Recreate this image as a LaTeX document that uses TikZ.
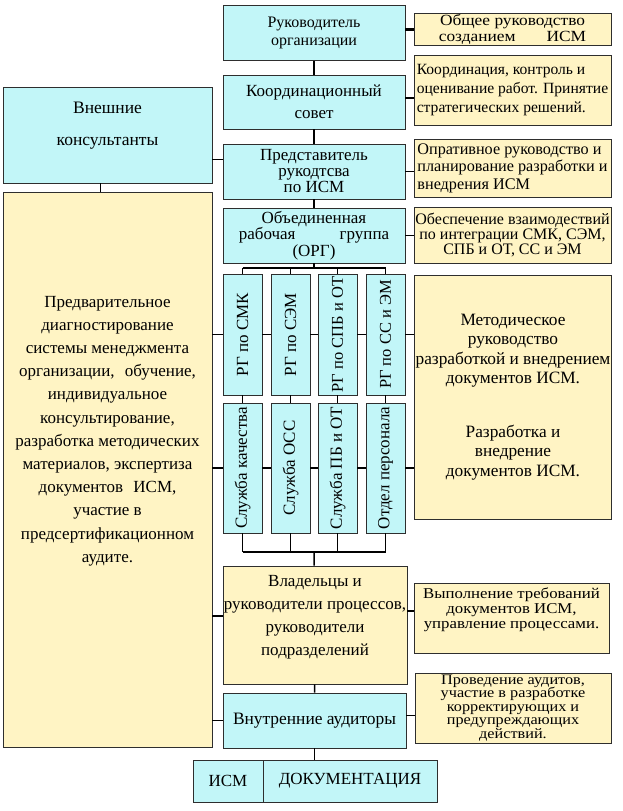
\documentclass[tikz,border=0pt]{standalone}
\usepackage{fontspec}
\setmainfont{Liberation Serif}
\usetikzlibrary{calc}
\definecolor{ink}{HTML}{2e2e2e}
\definecolor{aqua}{HTML}{C2F6F8}
\definecolor{sand}{HTML}{FFF4C4}
\newcommand\fs[2]{\fontsize{#1}{#2}\selectfont}
\newcommand\wide{\addfontfeature{FakeStretch=1.12}}

\begin{document}
\begin{tikzpicture}[x=1pt,y=-1pt,
   cb/.style={draw=ink,line width=0.8pt,fill=aqua,inner sep=1pt,align=center,font=\fs{17}{18}},
   yb/.style={draw=ink,line width=0.8pt,fill=sand,inner sep=1pt,align=center,font=\fs{17}{18}},
   vb/.style={cb,rotate=90,minimum height=39,font=\fs{17}{18}},
   a/.style={line width=1.5pt,black}]
  \useasboundingbox (0,0) rectangle (623,811);
  % middle column
  \node[cb,minimum width=182,minimum height=55,font=\fs{16}{18}] (ruk) at (314,33) {Руководитель\\организации};
  \node[cb,minimum width=182,minimum height=54,font=\fs{17}{22}] (sov) at (314,102) {Координационный\\совет};
  \node[cb,minimum width=182,minimum height=55,font=\fs{17}{16}] (pred) at (314,171.5) {Представитель\\рукодтсва\\по ИСМ};
  \node[cb,minimum width=182,minimum height=55,font=\fs{17}{15}] (org) at (314,235.5) {Объединенная\\рабочая\hspace{2.6em}группа\\(ОРГ)};
  % right column
  \node[yb,minimum width=197,minimum height=31,font=\fs{15.5}{16}\wide] (rukY) at (512.5,29.5) {Общее руководство\\созданием\hspace{2em}ИСМ};
  \node[yb,minimum width=197,minimum height=70,align=left,font=\fs{15.6}{19}] (sovY) at (512.5,90) {Координация, контроль и\\оценивание работ. Принятие\\стратегических решений.};
  \node[yb,minimum width=197,minimum height=58,align=left,font=\fs{16.2}{17.5}] (predY) at (512.5,168) {Опративное руководство и\\планирование разработки и\\внедрения ИСМ};
  \node[yb,minimum width=197,minimum height=56,font=\fs{16}{15}] (orgY) at (512.5,235) {Обеспечение взаимодествий\\по интеграции СМК, СЭМ,\\СПБ и ОТ, СС и ЭМ};
  % left column
  \node[cb,minimum width=209,minimum height=96,font=\fs{17.5}{32}] (vn) at (107.5,135) {Внешние\\консультанты\\[-10pt]\mbox{}};
  \node[yb,minimum width=209,minimum height=555] (pre) at (107.5,469.5) {};
  \node[align=center,font=\fs{17}{23.2}] (preT) at (107.5,431) {Предварительное\\диагностирование\\системы менеджмента\\организации,\hspace{0.6em}обучение,\\индивидуальное\\консультирование,\\разработка методических\\материалов, экспертиза\\документов\hspace{0.6em}ИСМ,\\участие в\\предсертификационном\\аудите.};
  % working groups and services
  \node[vb,minimum width=121] (rg1) at (242.5,334.5) {РГ по СМК};
  \node[vb,minimum width=121] (rg2) at (290.5,334.5) {РГ по СЭМ};
  \node[vb,minimum width=121,font=\fs{16.5}{18}] (rg3) at (337.5,334.5) {РГ по СПБ и ОТ};
  \node[vb,minimum width=121,font=\fs{16.5}{18}] (rg4) at (385.5,334.5) {РГ по СС и ЭМ};
  \node[vb,minimum width=130] (sl1) at (242.5,468) {Служба качества};
  \node[vb,minimum width=130] (sl2) at (290.5,468) {Служба ОСС};
  \node[vb,minimum width=130] (sl3) at (337.5,468) {Служба ПБ и ОТ};
  \node[vb,minimum width=130] (sl4) at (385.5,468) {Отдел персонала};
  \node[yb,minimum width=196,minimum height=244,font=\fs{17.3}{19.5}] (met) at (513,397) {Методическое\\руководство\\разработкой и внедрением\\документов ИСМ.\\[34pt]Разработка и\\внедрение\\документов ИСМ.};
  % lower part
  \node[yb,minimum width=184,minimum height=118,font=\fs{17}{23}] (vl) at (315,625) {Владельцы и\\руководители процессов,\\руководители\\подразделений\\[-3pt]\mbox{}};
  \node[yb,minimum width=195,minimum height=70,font=\fs{15}{15}\wide] (vyp) at (511.5,618) {Выполнение требований\\документов ИСМ,\\управление процессами.\\[5pt]\mbox{}};
  \node[cb,minimum width=183,minimum height=55,font=\fs{17.4}{18}] (au) at (314.5,720.5) {Внутренние аудиторы};
  \node[yb,minimum width=196,minimum height=70,font=\fs{14.5}{13.6}\wide] (auY) at (513,708) {Проведение аудитов,\\участие в разработке\\корректирующих и\\предупреждающих\\действий.};
  \node[cb,minimum width=70,minimum height=42] (ism) at (228,781) {ИСМ};
  \node[cb,minimum width=174,minimum height=42] (doc) at (350,781) {ДОКУМЕНТАЦИЯ};
  % connectors
  \draw[a] (ruk) -- (sov);
  \draw[a] (sov) -- (pred);
  \draw[a] (pred) -- (org);
  \draw[a,line width=2.5pt] (rukY.west) -- (rukY.west -| ruk.east);
  \draw[a] ([yshift=4pt]sov.east) -- ([yshift=4pt]sov.east -| sovY.west);
  \draw[a] (pred.east) -- (pred.east -| predY.west);
  \draw[a] (org.east) -- (org.east -| orgY.west);
  \draw[a] ([yshift=12pt]pred.west) -- ([yshift=12pt]pred.west -| vn.east);
  \draw[a] ([xshift=-7pt]vn.south) -- ([xshift=-7pt]vn.south |- pre.north);
  \coordinate (busT) at (314,268);
  \coordinate (busB) at (314,552);
  \draw[a] (org) -- (busT);
  \draw[a] (rg1 |- busT) -- (rg4 |- busT);
  \draw[a] (sl1 |- busB) -- (sl4 |- busB);
  \foreach \i in {1,...,4} {
    \draw[a] (rg\i |- busT) -- (rg\i);
    \draw[a] (rg\i) -- (sl\i);
    \draw[a] (sl\i) -- (sl\i |- busB);
  }
  \draw[a] (pre.east |- rg1) -- (rg1);
  \draw[a] (rg1) -- (rg2);
  \draw[a] (rg2) -- (rg3);
  \draw[a] (rg3) -- (rg4);
  \draw[a] (rg4) -- (rg4 -| met.west);
  \draw[a] (pre.east |- sl1) -- (sl1);
  \draw[a] (sl1) -- (sl2);
  \draw[a] (sl2) -- (sl3);
  \draw[a] (sl3) -- (sl4);
  \draw[a] (sl4) -- (sl4 -| met.west);
  \draw[a] (busB) -- (vl);
  \draw[a] ([yshift=9pt]vl.west) -- ([yshift=9pt]vl.west -| pre.east);
  \draw[a] ([yshift=7pt]vyp.west) -- ([yshift=7pt]vyp.west -| vl.east);
  \draw[a] (vl) -- (au);
  \draw[a] (au.west) -- (au.west -| pre.east);
  \draw[a] ([yshift=5pt]au.east) -- ([yshift=5pt]au.east -| auY.west);
  \draw[a] (au.south) -- (au.south |- doc.north);
\end{tikzpicture}
\end{document}
